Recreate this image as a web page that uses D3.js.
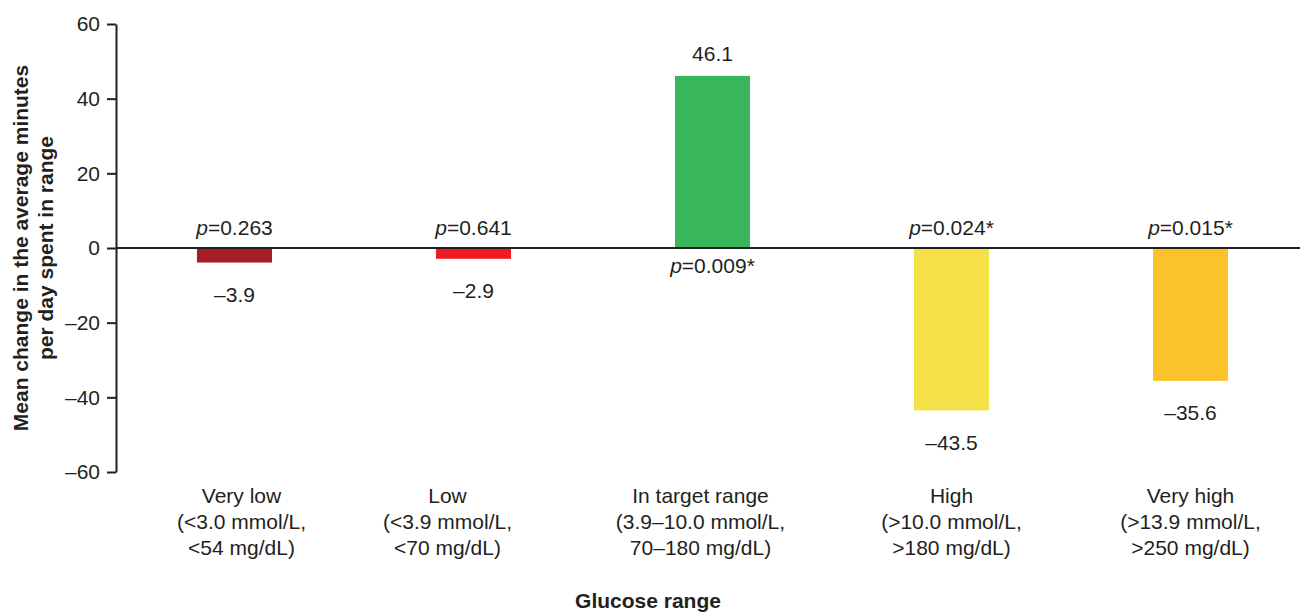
<!DOCTYPE html>
<html>
<head>
<meta charset="utf-8">
<script src="https://cdn.jsdelivr.net/npm/d3@7"></script>
<style>
  html, body { margin: 0; padding: 0; background: #fff; }
  svg { display: block; font-family: "Liberation Sans", Arial, Helvetica, sans-serif; }
</style>
</head>
<body>
<svg id="chart" width="1300" height="612"></svg>
<script>
// Glucose ranges and the mean change in minutes per day spent in each
const categories = ["Very low", "Low", "In target range", "High", "Very high"];
const rangeDetails = [
  ["(<3.0 mmol/L,", "<54 mg/dL)"],
  ["(<3.9 mmol/L,", "<70 mg/dL)"],
  ["(3.9–10.0 mmol/L,", "70–180 mg/dL)"],
  ["(>10.0 mmol/L,", ">180 mg/dL)"],
  ["(>13.9 mmol/L,", ">250 mg/dL)"]
];
const meanChange = [-3.9, -2.9, 46.1, -43.5, -35.6];
const pValues = ["0.263", "0.641", "0.009*", "0.024*", "0.015*"];
const barColors = ["#a51d24", "#ed1c24", "#39b55b", "#f5e04a", "#fbc22c"];
const yTicks = [-60, -40, -20, 0, 20, 40, 60];

// layout
const ink = "#231f20";
const fontSize = 21;
const svg = d3.select("#chart");

const x = d3.scaleBand()
  .domain(categories)
  .range([115, 1310])
  .paddingInner(0.686)
  .paddingOuter(0.343);

const y = d3.scaleLinear().domain([-60, 60]).range([472, 24]);

// small horizontal nudges for the category captions
const captionShift = [7, -26, -12, 0, 0];

// bars
svg.append("g").selectAll("rect")
  .data(meanChange)
  .join("rect")
  .attr("x", (d, i) => x(categories[i]))
  .attr("width", x.bandwidth())
  .attr("y", d => y(Math.max(0, d)))
  .attr("height", d => Math.abs(y(d) - y(0)))
  .attr("fill", (d, i) => barColors[i]);

// zero line across the plot
svg.append("line")
  .attr("x1", 116).attr("x2", 1300)
  .attr("y1", y(0)).attr("y2", y(0))
  .attr("stroke", ink).attr("stroke-width", 2);

// y axis
const fmt = v => (v < 0 ? "–" + Math.abs(v) : String(v));
const yAxis = svg.append("g")
  .attr("transform", "translate(116,0)")
  .call(d3.axisLeft(y).tickValues(yTicks).tickFormat(fmt).tickSize(9).tickPadding(7).tickSizeOuter(0));
yAxis.select(".domain").attr("stroke", ink).attr("stroke-width", 2);
yAxis.selectAll(".tick line").attr("stroke", ink).attr("stroke-width", 2);
yAxis.selectAll(".tick text")
  .attr("fill", ink)
  .attr("font-size", fontSize)
  .attr("font-family", "Liberation Sans, Arial, sans-serif");

// value labels
svg.append("g").selectAll("text")
  .data(meanChange)
  .join("text")
  .attr("x", (d, i) => x(categories[i]) + x.bandwidth() / 2)
  .attr("y", d => d >= 0 ? y(d) - 15 : y(d) + 39.5)
  .attr("text-anchor", "middle")
  .attr("font-size", fontSize)
  .attr("fill", ink)
  .text(d => d < 0 ? "–" + Math.abs(d).toFixed(1) : d.toFixed(1));

// p-value labels on the opposite side of the zero line
const pLabels = svg.append("g").selectAll("text")
  .data(pValues)
  .join("text")
  .attr("x", (d, i) => x(categories[i]) + x.bandwidth() / 2)
  .attr("y", (d, i) => meanChange[i] >= 0 ? y(0) + 25 : y(0) - 13)
  .attr("text-anchor", "middle")
  .attr("font-size", fontSize)
  .attr("fill", ink);
pLabels.append("tspan").attr("font-style", "italic").text("p");
pLabels.append("tspan").text(d => "=" + d);

// category captions
const captions = svg.append("g").selectAll("text")
  .data(categories)
  .join("text")
  .attr("text-anchor", "middle")
  .attr("font-size", fontSize)
  .attr("fill", ink);
captions.each(function (d, i) {
  const cx = x(d) + x.bandwidth() / 2 + captionShift[i];
  const lines = [d].concat(rangeDetails[i]);
  d3.select(this).selectAll("tspan")
    .data(lines)
    .join("tspan")
    .attr("x", cx)
    .attr("y", (l, k) => 503 + k * 26)
    .text(l => l);
});

// axis titles
svg.append("text")
  .attr("x", 648).attr("y", 608)
  .attr("text-anchor", "middle")
  .attr("font-size", fontSize)
  .attr("font-weight", "bold")
  .attr("fill", ink)
  .text("Glucose range");

const yTitle = svg.append("text")
  .attr("transform", `translate(0,${y(0)}) rotate(-90)`)
  .attr("text-anchor", "middle")
  .attr("font-size", fontSize)
  .attr("font-weight", "bold")
  .attr("fill", ink);
yTitle.append("tspan").attr("x", 0).attr("y", 28).text("Mean change in the average minutes");
yTitle.append("tspan").attr("x", 0).attr("y", 53).text("per day spent in range");
</script>
</body>
</html>
